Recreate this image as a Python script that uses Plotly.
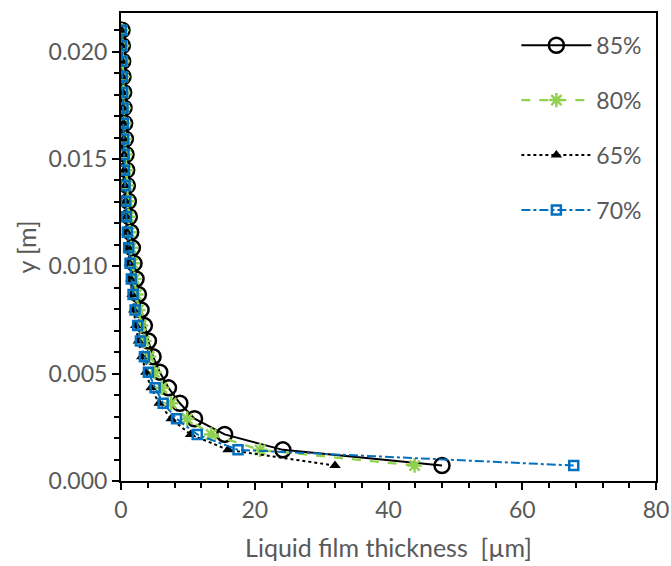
import plotly.graph_objects as go

# y positions [m] (bottom to top)
y_m = [0.00072, 0.00145, 0.00217, 0.00290, 0.00362, 0.00434, 0.00507, 0.00579,
       0.00652, 0.00724, 0.00797, 0.00869, 0.00941, 0.01014, 0.01086, 0.01159,
       0.01231, 0.01303, 0.01376, 0.01448, 0.01521, 0.01593, 0.01666, 0.01738,
       0.01810, 0.01883, 0.01955, 0.02028, 0.02100]

# liquid film thickness [um]
s85 = [48.0, 24.2, 15.5, 11.0, 8.8, 7.1, 5.8, 4.8, 4.1, 3.5, 3.0, 2.6, 2.25, 1.95,
       1.7, 1.45, 1.25, 1.1, 0.95, 0.85, 0.75, 0.65, 0.55, 0.45, 0.4, 0.3, 0.25, 0.2, 0.15]
s80 = [43.9, 20.8, 13.5, 9.9, 7.5, 6.1, 5.0, 4.2, 3.5, 3.0, 2.6, 2.3, 2.0, 1.75,
       1.5, 1.3, 1.15, 1.0, 0.9, 0.8, 0.7, 0.6, 0.5, 0.45, 0.35, 0.3, 0.25, 0.2, 0.15]
s65 = [32.0, 16.0, 10.4, 7.5, 5.7, 4.5, 3.7, 3.1, 2.6, 2.2, 1.9, 1.65, 1.45, 1.25,
       1.1, 0.9, 0.8, 0.7, 0.6, 0.5, 0.45, 0.4, 0.35, 0.3, 0.25, 0.2, 0.15, 0.1, 0.05]
s70 = [67.7, 17.5, 11.4, 8.3, 6.3, 5.1, 4.1, 3.5, 2.9, 2.5, 2.1, 1.8, 1.55, 1.35,
       1.15, 0.95, 0.8, 0.7, 0.6, 0.5, 0.45, 0.4, 0.35, 0.3, 0.25, 0.2, 0.15, 0.1, 0.05]

series_names = ["85%", "80%", "65%", "70%"]

FONT = "Lato, Liberation Sans, sans-serif"
GRAY = "#595959"

fig = go.Figure()
fig.add_trace(go.Scatter(
    x=s85, y=y_m, name=series_names[0], legendgroup="a", mode="lines+markers",
    line=dict(color="black", width=2, dash="solid"),
    marker=dict(symbol="circle-open", size=15, color="black", line=dict(width=2.5, color="black"))))
fig.add_trace(go.Scatter(
    x=s80, y=y_m, name=series_names[1], legendgroup="b", mode="lines+markers",
    line=dict(color="#92D050", width=2.25, dash="dash"),
    marker=dict(symbol="asterisk-open", size=12, color="#92D050", line=dict(width=2.5, color="#92D050"))))
fig.add_trace(go.Scatter(
    x=s65, y=y_m, name=series_names[2], legendgroup="c", mode="lines+markers",
    line=dict(color="black", width=2, dash="dot"),
    marker=dict(symbol="triangle-up", size=10, color="black")))
fig.add_trace(go.Scatter(
    x=s70, y=y_m, name=series_names[3], legendgroup="d", mode="lines+markers",
    line=dict(color="#0070C0", width=2, dash="dashdot"),
    marker=dict(symbol="square-open", size=9, color="#0070C0", line=dict(width=2.5, color="#0070C0"))))

fig.update_layout(
    width=671, height=566,
    margin=dict(l=121, r=15, t=13, b=85),
    paper_bgcolor="white", plot_bgcolor="white",
    font=dict(family=FONT, size=23, color=GRAY),
    legend=dict(x=0.739, y=0.977, xanchor="left", yanchor="top",
                font=dict(family=FONT, size=23, color=GRAY),
                tracegroupgap=22, itemwidth=70, bgcolor="rgba(0,0,0,0)"),
    xaxis=dict(range=[0, 80], tickvals=[0, 20, 40, 60, 80], showgrid=False, zeroline=False,
               automargin=False,
               showline=True, linecolor="black", linewidth=2, mirror=True,
               ticks="outside", ticklen=7, tickwidth=2, tickcolor="black",
               minor=dict(dtick=4, ticks="outside", ticklen=5, tickwidth=2, tickcolor="black", showgrid=False),
               tickfont=dict(family=FONT, size=23, color=GRAY),
               title=dict(text="Liquid film thickness  [µm]", font=dict(family=FONT, size=25, color=GRAY), standoff=18)),
    yaxis=dict(range=[0, 0.0218], tickvals=[0, 0.005, 0.01, 0.015, 0.02], tickformat=".3f",
               showgrid=False, zeroline=False, automargin=False,
               showline=True, linecolor="black", linewidth=2, mirror=True,
               ticks="outside", ticklen=7, tickwidth=2, tickcolor="black",
               minor=dict(dtick=0.001, ticks="outside", ticklen=5, tickwidth=2, tickcolor="black", showgrid=False),
               tickfont=dict(family=FONT, size=23, color=GRAY),
               title=dict(text="y [m]", font=dict(family=FONT, size=25, color=GRAY), standoff=5)),
)

fig.write_html("out.html", config={"displayModeBar": False},
               post_script="document.body.style.margin='0';document.body.style.overflow='hidden';")
